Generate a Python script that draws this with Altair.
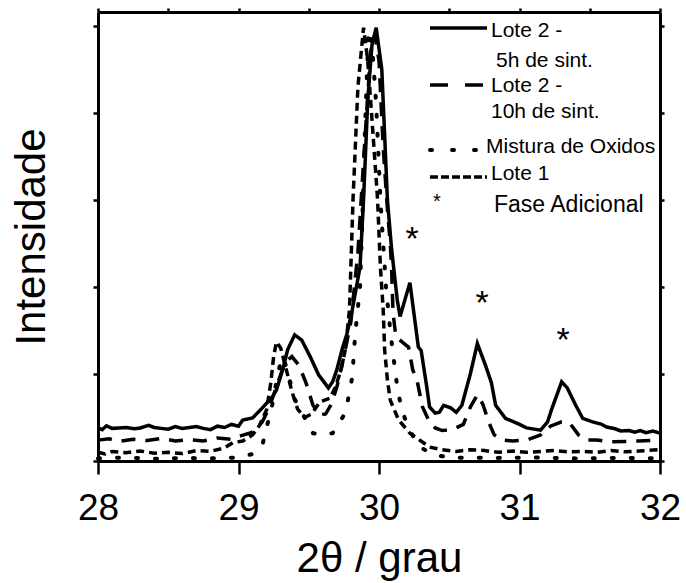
import altair as alt
import pandas as pd

FONT = "Liberation Sans"

# Lote 2 - 5h de sinterização
t_5h = [28.00, 28.03, 28.06, 28.10, 28.15, 28.20, 28.26, 28.30, 28.36, 28.40,
        28.45, 28.50, 28.55, 28.60, 28.65, 28.70, 28.75, 28.80, 28.85, 28.90,
        28.95, 29.00, 29.03, 29.10, 29.17, 29.24, 29.27, 29.32, 29.35, 29.40,
        29.45, 29.51, 29.57, 29.64, 29.67, 29.70, 29.74, 29.77, 29.81, 29.865,
        29.89, 29.92, 29.95, 29.98, 30.02, 30.06, 30.09, 30.13, 30.15, 30.22,
        30.28, 30.30, 30.34, 30.36, 30.40, 30.43, 30.46, 30.51, 30.55, 30.59,
        30.65, 30.70, 30.76, 30.80, 30.83, 30.90, 31.00, 31.05, 31.15, 31.20,
        31.23, 31.30, 31.34, 31.40, 31.45, 31.52, 31.58, 31.62, 31.68, 31.72,
        31.78, 31.82, 31.86, 31.90, 31.95, 32.00]
i_5h = [380, 360, 405, 375, 380, 385, 370, 380, 410, 385,
        375, 365, 395, 375, 385, 395, 375, 360, 400, 385,
        420, 400, 470, 495, 610, 735, 815, 1080, 1280, 1450,
        1390, 1200, 990, 840, 910, 1050, 1300, 1450, 1740, 2230,
        3000, 4150, 4780, 4980, 4500, 3000, 2430, 1850, 1660, 2050,
        1310, 1270, 850, 620, 550, 560, 640, 610, 560, 640,
        1000, 1350, 1090, 900, 640, 490, 420, 380, 355, 450,
        600, 910, 840, 640, 490, 450, 425, 390, 370, 345,
        350, 330, 350, 325, 345, 320]

# Lote 2 - 10h de sinterização
t_10h = [28.00, 28.08, 28.15, 28.25, 28.35, 28.45, 28.55, 28.65, 28.75, 28.85,
         28.95, 29.00, 29.10, 29.17, 29.22, 29.28, 29.33, 29.38, 29.43, 29.48,
         29.53, 29.58, 29.62, 29.66, 29.70, 29.75, 29.80, 29.85, 29.90, 29.94,
         29.97, 30.00, 30.03, 30.06, 30.08, 30.09, 30.10, 30.12, 30.17, 30.21,
         30.24, 30.27, 30.31, 30.35, 30.40, 30.45, 30.52, 30.60, 30.65, 30.70,
         30.74, 30.78, 30.82, 30.88, 30.95, 31.05, 31.15, 31.22, 31.30, 31.36,
         31.42, 31.48, 31.55, 31.65, 31.75, 31.85, 32.00]
i_10h = [240, 255, 225, 250, 235, 260, 230, 245, 230, 265,
         250, 280, 330, 450, 620, 900, 1130, 1200, 1100, 900,
         640, 530, 540, 650, 850, 1200, 1600, 2400, 3700, 4700,
         4900, 4600, 3600, 2890, 2500, 2200, 1700, 1430, 1360, 1310,
         1050, 930, 620, 480, 380, 350, 360, 420, 620, 760,
         650, 450, 300, 240, 230, 240, 300, 400, 450, 430,
         300, 240, 240, 220, 225, 230, 240]

# Mistura de óxidos
t_mix = [28.00, 28.20, 28.40, 28.60, 28.80, 29.00, 29.10, 29.17, 29.24, 29.28,
         29.31, 29.35, 29.39, 29.44, 29.53, 29.60, 29.67, 29.72, 29.76, 29.79,
         29.81, 29.83, 29.865, 29.88, 29.90, 29.925, 29.95, 29.98, 30.01, 30.05,
         30.08, 30.11, 30.13, 30.16, 30.20, 30.25, 30.30, 30.40, 30.50, 30.80,
         31.10, 31.40, 31.70, 32.00]
i_mix = [30, 40, 25, 35, 30, 40, 80, 185, 645, 1000,
         1200, 1050, 740, 590, 320, 300, 320, 450, 550, 790,
         970, 1450, 2000, 2700, 3800, 4950, 4800, 4100, 3000, 2000,
         1500, 1100, 850, 600, 420, 260, 150, 70, 40, 35,
         40, 30, 35, 30]

# Lote 1
t_l1 = [28.00, 28.05, 28.10, 28.20, 28.30, 28.40, 28.50, 28.60, 28.70, 28.80,
        28.90, 28.96, 29.03, 29.10, 29.15, 29.20, 29.23, 29.25, 29.27, 29.30,
        29.34, 29.38, 29.42, 29.47, 29.52, 29.58, 29.65, 29.69, 29.73, 29.76,
        29.79, 29.815, 29.85, 29.89, 29.92, 29.96, 29.99, 30.01, 30.03, 30.04,
        30.06, 30.08, 30.14, 30.22, 30.29, 30.36, 30.45, 30.55, 30.65, 30.75,
        30.85, 30.95, 31.05, 31.15, 31.25, 31.35, 31.45, 31.55, 31.65, 31.75,
        31.85, 32.00]
i_l1 = [100, 80, 110, 95, 115, 90, 100, 85, 120, 110,
        150, 210, 230, 300, 410, 590, 900, 1200, 1370, 1300,
        1050, 800, 600, 500, 540, 680, 720, 850, 1050, 1280,
        1740, 3000, 4300, 4980, 4600, 3700, 3000, 2230, 1740, 1280,
        930, 700, 470, 320, 240, 160, 130, 110, 130, 120,
        100, 115, 100, 110, 120, 105, 110, 100, 120, 105,
        115, 130]

# Picos da fase adicional
star_t = [30.235, 30.733, 31.31]
star_i = [2630, 1900, 1470]

legend_labels = ["Lote 2 -", "5h de sint.", "Lote 2 -", "10h de sint.",
                 "Mistura de Oxidos", "Lote 1", "Fase Adicional"]

W, H = 562, 449

x_scale = alt.Scale(domain=[28, 32], nice=False, zero=False)
y_scale = alt.Scale(domain=[0, 5160], nice=False, zero=True)

x_axis = alt.Axis(
    values=[28, 28.5, 29, 29.5, 30, 30.5, 31, 31.5, 32],
    labelExpr="datum.value % 1 === 0 ? datum.label : ''",
    format="d", title="2θ / grau", titleFontSize=42, titleFont=FONT,
    titleFontWeight="normal", titleColor="black", titlePadding=12,
    labelFontSize=37, labelFont=FONT, labelColor="black", labelPadding=16,
    tickSize={"condition": {"test": "datum.value % 1 === 0", "value": 13}, "value": 6},
    tickWidth=2.5, tickColor="black", domainWidth=3, domainColor="black",
    grid=False, labelFlush=False, orient="bottom",
)
y_axis = alt.Axis(
    values=[0, 1000, 2000, 3000, 4000, 5000], labels=False,
    title="Intensidade", titleFontSize=42, titleFont=FONT,
    titleFontWeight="normal", titleColor="black", titlePadding=38,
    tickSize=5, tickWidth=2.5, tickColor="black", domainWidth=3,
    domainColor="black", grid=False, orient="left",
)
x_top = alt.Axis(
    values=[28, 28.5, 29, 29.5, 30, 30.5, 31, 31.5, 32], labels=False,
    title=None, tickSize=4, tickWidth=2.5, tickColor="black",
    domainWidth=3, domainColor="black", grid=False, orient="top",
)
y_right = alt.Axis(
    values=[0, 1000, 2000, 3000, 4000, 5000], labels=False, title=None,
    tickSize=4, tickWidth=2.5, tickColor="black", domainWidth=3,
    domainColor="black", grid=False, orient="right",
)


def series(t, i, **line_kw):
    df = pd.DataFrame({"theta": t, "inten": i})
    return alt.Chart(df).mark_line(color="black", **line_kw).encode(
        x=alt.X("theta:Q", scale=x_scale, axis=None),
        y=alt.Y("inten:Q", scale=y_scale, axis=None),
    )


frame = alt.Chart(pd.DataFrame({"theta": [28, 32], "inten": [0, 5160]})).mark_point(
    opacity=0
).encode(
    x=alt.X("theta:Q", scale=x_scale, axis=x_axis),
    y=alt.Y("inten:Q", scale=y_scale, axis=y_axis),
)
frame2 = alt.Chart(pd.DataFrame({"theta": [28, 32], "inten": [0, 5160]})).mark_point(
    opacity=0
).encode(
    x=alt.X("theta:Q", scale=x_scale, axis=x_top),
    y=alt.Y("inten:Q", scale=y_scale, axis=y_right),
)

l_5h = series(t_5h, i_5h, strokeWidth=3.5)
l_10h = series(t_10h, i_10h, strokeWidth=3.5, strokeDash=[14, 10])
l_mix = series(t_mix, i_mix, strokeWidth=4, strokeDash=[2, 17], strokeCap="round")
l_l1 = series(t_l1, i_l1, strokeWidth=3.5, strokeDash=[8, 5])

stars = alt.Chart(pd.DataFrame({"theta": star_t, "inten": star_i})).mark_text(
    text="*", font=FONT, fontSize=34, color="black", baseline="middle", dy=8
).encode(
    x=alt.X("theta:Q", scale=x_scale, axis=None),
    y=alt.Y("inten:Q", scale=y_scale, axis=None),
)

# Legend drawn in view pixel coordinates
one = pd.DataFrame({"k": [0]})
lx1, lx2 = 332, 389


def leg_line(y, width=3.5, **kw):
    return alt.Chart(one).mark_rule(color="black", strokeWidth=width, **kw).encode(
        x=alt.value(lx1), x2=alt.value(lx2), y=alt.value(y)
    )


def leg_text(txt, x, y, size=21):
    return alt.Chart(one).mark_text(
        text=txt, font=FONT, fontSize=size, color="black", align="left",
        baseline="middle"
    ).encode(x=alt.value(x), y=alt.value(y))


legend = [
    leg_line(16),
    leg_text(legend_labels[0], 393, 19),
    leg_text(legend_labels[1], 398, 49),
    leg_line(73, strokeDash=[18, 17]),
    leg_text(legend_labels[2], 393, 74),
    leg_text(legend_labels[3], 393, 100),
    leg_line(138, width=4, strokeDash=[2, 20], strokeCap="round"),
    leg_text(legend_labels[4], 388, 135),
    leg_line(165, strokeDash=[8, 3]),
    leg_text(legend_labels[5], 393, 162),
    leg_text("*", 335, 190, size=20),
    leg_text(legend_labels[6], 396, 193, size=23),
]

chart = alt.layer(
    frame, frame2, l_mix, l_l1, l_10h, l_5h, stars, *legend
).resolve_axis(x="independent", y="independent").properties(
    width=W, height=H, autosize="none",
    padding={"left": 98, "top": 12, "right": 26, "bottom": 122},
).configure_view(stroke=None).configure(background="white")

chart.save("out.html", embed_options={"renderer": "svg", "actions": False})
